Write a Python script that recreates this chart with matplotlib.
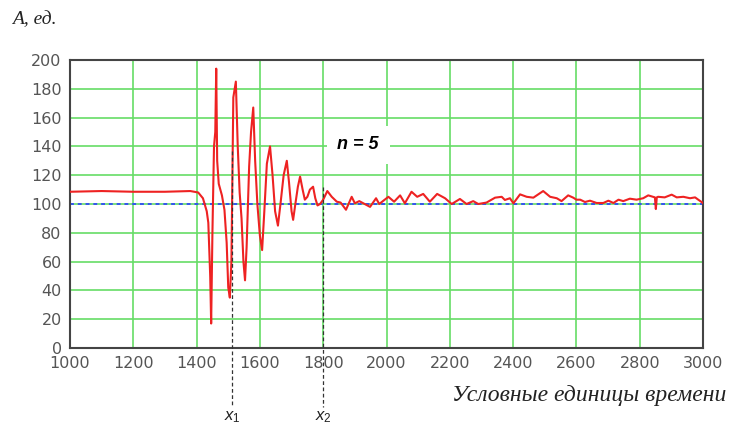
import matplotlib
matplotlib.use("Agg")
import matplotlib.pyplot as plt

# ---- data ----
time_x = [1000, 1100, 1200, 1300, 1380, 1405, 1420, 1432, 1437, 1443, 1446, 1450, 1455, 1459,
          1462, 1465, 1470, 1480, 1488, 1495, 1500, 1505, 1510, 1516, 1524, 1530, 1536, 1542,
          1548, 1553, 1558, 1566, 1572, 1579, 1585, 1592, 1600, 1607, 1614, 1622, 1632, 1640,
          1648, 1657, 1665, 1675, 1685, 1692, 1700, 1705, 1712, 1720, 1727, 1735, 1742, 1750,
          1758, 1768, 1775, 1782, 1790, 1800, 1813, 1827, 1843, 1855, 1872, 1890, 1900, 1914,
          1927, 1948, 1967, 1977, 2006, 2024, 2043, 2058, 2079, 2097, 2116, 2137, 2160, 2185,
          2206, 2232, 2253, 2274, 2290, 2316, 2343, 2364, 2374, 2390, 2401, 2422, 2443, 2464,
          2495, 2517, 2538, 2553, 2574, 2590, 2600, 2612, 2627, 2643, 2664, 2685, 2701, 2717,
          2733, 2748, 2769, 2790, 2811, 2827, 2848, 2851, 2854, 2858, 2879, 2901, 2917, 2938,
          2959, 2975, 2985, 3000]
amplitude = [108.5, 109, 108.5, 108.5, 109, 108, 104, 95, 87, 50, 17, 80, 140, 150,
             194, 130, 114, 106, 96, 73, 42, 35, 60, 174, 185, 140, 108, 90,
             60, 47, 70, 126, 150, 167, 130, 100, 78, 68, 95, 128, 140, 120,
             95, 85, 100, 120, 130, 115, 95, 89, 100, 112, 119, 110, 103, 105,
             110, 112, 104, 99, 100, 103, 109, 105, 101.6, 101, 96, 105, 100.5, 102,
             100.5, 98, 104, 100, 105, 101.6, 106, 100.5, 108.5, 105, 107, 101.6, 107, 104,
             100, 103.5, 100, 102, 100, 101, 104.4, 105, 102.8, 104, 100.5, 106.7, 105, 104.4,
             109, 105, 104, 102, 106, 104.4, 103, 103, 101.4, 102.3, 100.7, 100.7, 102.3, 100.7,
             103, 102, 103.7, 103, 104, 106, 104.6, 96.5, 104.6, 105, 104.6, 106.5, 104.6, 105,
             104, 104.6, 103, 100.7]
baseline = 100
marker_x = [1512, 1800]
marker_top = [137, 112]
marker_labels = ["$x_1$", "$x_2$"]
x_ticks = list(range(1000, 3001, 200))
y_ticks = list(range(0, 201, 20))

plt.rcParams["mathtext.fontset"] = "custom"
plt.rcParams["mathtext.it"] = "Liberation Sans:italic"
plt.rcParams["mathtext.rm"] = "Liberation Sans"

fig = plt.figure(figsize=(7.32, 4.26), dpi=100)
ax = fig.add_axes([70/732, 78/426, 633/732, 288/426])

ax.set_xlim(1000, 3000)
ax.set_ylim(0, 200)
ax.set_xticks(x_ticks)
ax.set_yticks(y_ticks)
ax.grid(True, color="#66dd66", lw=1.2)
ax.set_axisbelow(True)
ax.tick_params(length=0, labelsize=11.5, labelcolor="#555555", pad=6)
for s in ax.spines.values():
    s.set_color("#444444")
    s.set_linewidth(1.5)

ax.axhline(baseline, color="#3355ee", lw=1.4, ls=(0, (2, 2)), zorder=2)
ax.plot(time_x, amplitude, color="#ee2222", lw=1.5, zorder=3)

for xm, top, lab in zip(marker_x, marker_top, marker_labels):
    ax.plot([xm, xm], [top, -41], color="#333333", lw=0.9, ls=(0, (3, 2)),
            clip_on=False, zorder=4)
    ax.text(xm, -47, lab, ha="center", va="center", fontsize=12, color="#222222")

ax.text(1845, 141, "n = 5", ha="left", va="center", fontsize=13,
        family="Liberation Sans", weight="bold", style="italic", zorder=5,
        bbox=dict(boxstyle="square,pad=0.6", fc="white", ec="none"))

fig.text(12/732, 1 - 20/426, "A, ед.", ha="left", va="center", fontsize=14,
         family="Liberation Serif", style="italic", color="#222222")
fig.text(726/732, 1 - 395/426, "Условные единицы времени", ha="right", va="center",
         fontsize=17, family="Liberation Serif", style="italic", color="#222222")

fig.savefig("out.png", dpi=100)
